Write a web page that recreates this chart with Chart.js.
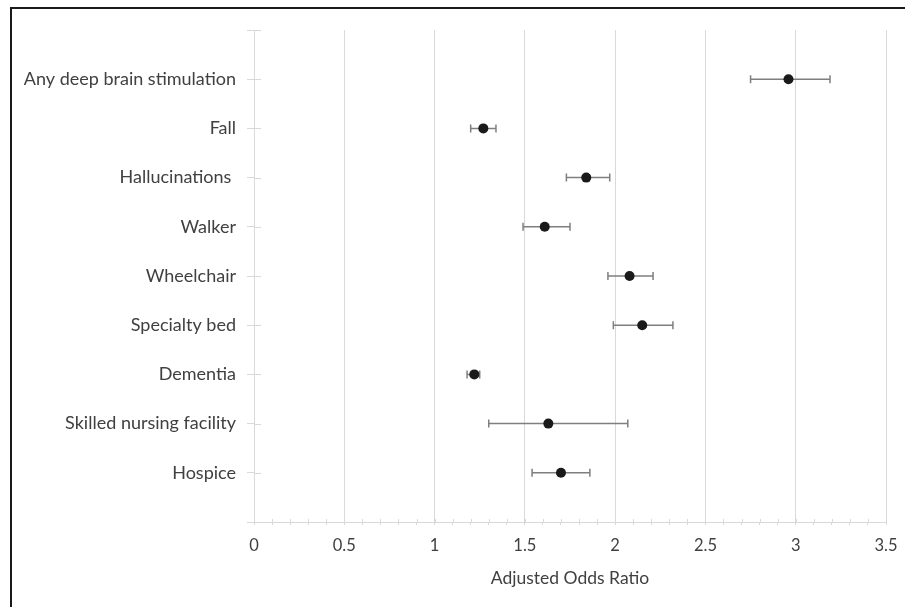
<!DOCTYPE html>
<html>
<head>
<meta charset="utf-8">
<script src="https://cdn.jsdelivr.net/npm/chart.js@4.4.1/dist/chart.umd.min.js"></script>
<style>
  html, body { margin: 0; padding: 0; background: #fff; }
  #wrap { position: relative; width: 905px; height: 607px; }
  #frame {
    position: absolute; left: 10px; top: 7px; width: 905px; height: 610px;
    border: 2px solid #1a1a1a; box-sizing: border-box; pointer-events: none;
  }
  canvas { position: absolute; left: 0; top: 0; }
</style>
</head>
<body>
<div id="wrap">
  <canvas id="forest" width="905" height="607"></canvas>
  <div id="frame"></div>
</div>
<script>
// Adjusted odds ratios with 95% CI
const categories = [
  'Any deep brain stimulation',
  'Fall',
  'Hallucinations ',
  'Walker',
  'Wheelchair',
  'Specialty bed',
  'Dementia',
  'Skilled nursing facility',
  'Hospice'
];
const oddsRatio = [2.96, 1.27, 1.84, 1.61, 2.08, 2.15, 1.22, 1.63, 1.70];
const ciLow     = [2.75, 1.20, 1.73, 1.49, 1.96, 1.99, 1.18, 1.30, 1.54];
const ciHigh    = [3.19, 1.34, 1.97, 1.75, 2.21, 2.32, 1.25, 2.07, 1.86];
const xTickLabels = ['0', '0.5', '1', '1.5', '2', '2.5', '3', '3.5'];

const textColor = '#404040';
const gridColor = '#d9d9d9';
const fontFamily = 'Lato, "Open Sans", sans-serif';

function isMajor(v) {
  return Math.abs(v * 2 - Math.round(v * 2)) < 1e-6;
}

// error bars + the inner half of the axis tick marks
const errorBars = {
  id: 'errorBars',
  beforeDatasetsDraw(chart) {
    const { ctx, scales: { x, y } } = chart;
    ctx.save();

    // tick marks crossing the axes
    ctx.strokeStyle = gridColor;
    ctx.lineWidth = 1;
    const axisY = y.bottom;
    x.ticks.forEach(t => {
      const px = Math.round(x.getPixelForValue(t.value)) + 0.5;
      ctx.beginPath();
      ctx.moveTo(px, axisY);
      ctx.lineTo(px, axisY - 3);
      ctx.stroke();
    });
    const axisX = x.left;
    y.ticks.forEach(t => {
      const py = Math.round(y.getPixelForValue(t.value)) + 0.5;
      ctx.beginPath();
      ctx.moveTo(axisX, py);
      ctx.lineTo(axisX + 7, py);
      ctx.stroke();
    });

    // confidence intervals
    ctx.strokeStyle = '#7f7f7f';
    ctx.lineWidth = 1.5;
    categories.forEach((c, i) => {
      const py = y.getPixelForValue(i + 1);
      const x0 = x.getPixelForValue(ciLow[i]);
      const x1 = x.getPixelForValue(ciHigh[i]);
      ctx.beginPath();
      ctx.moveTo(x0, py);
      ctx.lineTo(x1, py);
      ctx.moveTo(x0, py - 4);
      ctx.lineTo(x0, py + 4);
      ctx.moveTo(x1, py - 4);
      ctx.lineTo(x1, py + 4);
      ctx.stroke();
    });
    ctx.restore();
  }
};

const points = oddsRatio.map((v, i) => ({ x: v, y: i + 1 }));

new Chart(document.getElementById('forest').getContext('2d'), {
  type: 'scatter',
  data: {
    datasets: [{
      label: 'Adjusted Odds Ratio',
      data: points,
      backgroundColor: '#1a1a1a',
      borderWidth: 0,
      pointRadius: 5,
      pointHoverRadius: 5
    }]
  },
  plugins: [errorBars],
  options: {
    responsive: false,
    animation: false,
    layout: { padding: { top: 30, right: 19, left: 0, bottom: 0 } },
    plugins: {
      legend: { display: false },
      tooltip: { enabled: false }
    },
    scales: {
      x: {
        type: 'linear',
        min: 0,
        max: 3.5,
        afterFit: function(scale) {
          scale.height = 85;
          scale.paddingLeft = 0;
          scale.paddingRight = 0;
        },
        afterBuildTicks: function(scale) {
          const ticks = [];
          for (let k = 0; k <= 35; k++) ticks.push({ value: k / 10 });
          scale.ticks = ticks;
        },
        ticks: {
          autoSkip: false,
          maxRotation: 0,
          padding: 11,
          color: textColor,
          font: { family: fontFamily, size: 16.5 },
          callback: function(value) {
            if (!isMajor(value)) return '';
            return xTickLabels[Math.round(value * 2)];
          }
        },
        grid: {
          color: ctx => (ctx.tick && isMajor(ctx.tick.value)) ? gridColor : 'rgba(0,0,0,0)',
          tickColor: gridColor,
          tickLength: 3,
          lineWidth: 1
        },
        border: { display: true, color: gridColor },
        title: {
          display: true,
          text: 'Adjusted Odds Ratio',
          color: textColor,
          font: { family: fontFamily, size: 17.5 },
          padding: { top: 4, bottom: 18 }
        }
      },
      y: {
        type: 'linear',
        reverse: true,
        min: 0,
        max: 10,
        afterFit: function(scale) { scale.width = 254; },
        ticks: {
          stepSize: 1,
          padding: 11,
          color: textColor,
          font: { family: fontFamily, size: 18 },
          callback: function(value) {
            return categories[value - 1] || '';
          }
        },
        grid: {
          drawOnChartArea: false,
          tickColor: gridColor,
          tickLength: 7
        },
        border: { display: true, color: gridColor }
      }
    }
  }
});
</script>
</body>
</html>
